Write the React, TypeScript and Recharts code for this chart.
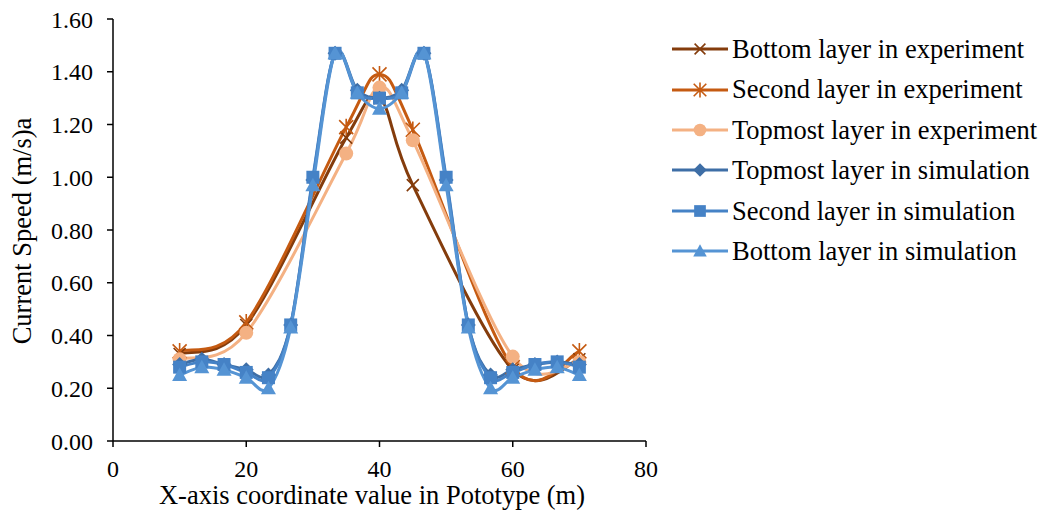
import React from "react";
import { LineChart, Line, XAxis, YAxis, Legend } from "recharts";

// x positions (m)
const expX = [10, 20, 35, 40, 45, 60, 70];
const simX = [10, 13.33, 16.67, 20, 23.33, 26.67, 30, 33.33, 36.67, 40, 43.33, 46.67, 50, 53.33, 56.67, 60, 63.33, 66.67, 70];

// current speed (m/s)
const bottomExp = [0.33, 0.44, 1.15, 1.3, 0.97, 0.27, 0.31];
const secondExp = [0.34, 0.45, 1.19, 1.39, 1.18, 0.28, 0.34];
const topExp = [0.31, 0.41, 1.09, 1.34, 1.14, 0.32, 0.3];
const topSim = [0.29, 0.31, 0.29, 0.27, 0.25, 0.44, 0.99, 1.47, 1.33, 1.3, 1.33, 1.47, 0.99, 0.44, 0.25, 0.27, 0.29, 0.3, 0.29];
const secondSim = [0.28, 0.3, 0.29, 0.26, 0.24, 0.44, 1.0, 1.47, 1.32, 1.3, 1.32, 1.47, 1.0, 0.44, 0.24, 0.26, 0.29, 0.3, 0.28];
const bottomSim = [0.25, 0.28, 0.27, 0.24, 0.2, 0.43, 0.97, 1.47, 1.32, 1.26, 1.32, 1.47, 0.97, 0.43, 0.2, 0.24, 0.27, 0.28, 0.25];

const xTicks = [0, 20, 40, 60, 80];
const yTicks = [0, 0.2, 0.4, 0.6, 0.8, 1.0, 1.2, 1.4, 1.6];

const FONT = '"Liberation Serif", "Times New Roman", serif';

type Shape = "cross" | "star" | "circle" | "diamond" | "square" | "triangle";

const toPts = (xs: number[], ys: number[]) => xs.map((x, i) => ({ x, y: ys[i] }));

const SERIES = [
  { name: "Bottom layer in experiment", data: toPts(expX, bottomExp), color: "#843C0C", shape: "cross" as Shape },
  { name: "Second layer in experiment", data: toPts(expX, secondExp), color: "#C55A11", shape: "star" as Shape },
  { name: "Topmost layer in experiment", data: toPts(expX, topExp), color: "#F4B183", shape: "circle" as Shape },
  { name: "Topmost layer in simulation", data: toPts(simX, topSim), color: "#3E6EA6", shape: "diamond" as Shape },
  { name: "Second layer in simulation", data: toPts(simX, secondSim), color: "#4582C6", shape: "square" as Shape },
  { name: "Bottom layer in simulation", data: toPts(simX, bottomSim), color: "#5594D4", shape: "triangle" as Shape },
];

// Excel-like smoothed line (Catmull-Rom through the points)
function excelCurve(context: any) {
  let pts: number[][] = [];
  return {
    areaStart() {},
    areaEnd() {},
    lineStart() {
      pts = [];
    },
    point(x: number, y: number) {
      pts.push([+x, +y]);
    },
    lineEnd() {
      if (!pts.length) return;
      context.moveTo(pts[0][0], pts[0][1]);
      for (let i = 0; i < pts.length - 1; i++) {
        const p0 = pts[i - 1] || pts[i];
        const p1 = pts[i];
        const p2 = pts[i + 1];
        const p3 = pts[i + 2] || p2;
        context.bezierCurveTo(
          p1[0] + (p2[0] - p0[0]) / 6,
          p1[1] + (p2[1] - p0[1]) / 6,
          p2[0] - (p3[0] - p1[0]) / 6,
          p2[1] - (p3[1] - p1[1]) / 6,
          p2[0],
          p2[1]
        );
      }
    },
  };
}

function Marker({ shape, cx, cy, color, s = 1 }: { shape: Shape; cx: number; cy: number; color: string; s?: number }) {
  switch (shape) {
    case "cross": {
      const r = 6 * s;
      return (
        <path d={`M${cx - r},${cy - r}L${cx + r},${cy + r}M${cx - r},${cy + r}L${cx + r},${cy - r}`} stroke={color} strokeWidth={1.6} />
      );
    }
    case "star": {
      const r = 7 * s;
      return (
        <path
          d={`M${cx - r},${cy - r}L${cx + r},${cy + r}M${cx - r},${cy + r}L${cx + r},${cy - r}M${cx},${cy - r * 1.2}L${cx},${cy + r * 1.2}`}
          stroke={color}
          strokeWidth={1.6}
        />
      );
    }
    case "circle":
      return <circle cx={cx} cy={cy} r={7 * s} fill={color} />;
    case "diamond": {
      const r = 7.5 * s;
      return <path d={`M${cx},${cy - r}L${cx + r},${cy}L${cx},${cy + r}L${cx - r},${cy}Z`} fill={color} />;
    }
    case "square": {
      const r = 6.5 * s;
      return <rect x={cx - r} y={cy - r} width={2 * r} height={2 * r} fill={color} />;
    }
    default: {
      const r = 7.5 * s;
      return <path d={`M${cx},${cy - r}L${cx + r},${cy + r * 0.8}L${cx - r},${cy + r * 0.8}Z`} fill={color} />;
    }
  }
}

function LegendBox() {
  return (
    <div style={{ fontFamily: FONT, fontSize: 26.5, color: "#000", lineHeight: 1 }}>
      {SERIES.map((s) => (
        <div key={s.name} style={{ display: "flex", alignItems: "center", height: 40.4 }}>
          <svg width={58} height={20} style={{ flex: "none" }}>
            <line x1={0} y1={10} x2={56} y2={10} stroke={s.color} strokeWidth={3} />
            <Marker shape={s.shape} cx={28} cy={10} color={s.color} s={0.9} />
          </svg>
          <span style={{ whiteSpace: "nowrap", marginLeft: 2 }}>{s.name}</span>
        </div>
      ))}
    </div>
  );
}

const titleStyle = { fontFamily: FONT, fontSize: 26.5, fill: "#000" };

export default function App() {
  return (
    <div style={{ width: 1045, height: 512, background: "#fff", position: "relative" }}>
      <style>{`body{margin:0}`}</style>
      <LineChart width={1045} height={512} margin={{ top: 19, right: 399, bottom: 0, left: 0 }}>
        <XAxis
          type="number"
          dataKey="x"
          domain={[0, 80]}
          ticks={xTicks}
          allowDuplicatedCategory={false}
          height={71}
          stroke="#000"
          strokeWidth={1.5}
          tickSize={6}
          tickMargin={13}
          tick={{ fontFamily: FONT, fontSize: 24, fill: "#000" }}
          label={{
            content: () => (
              <text x={372} y={504} textAnchor="middle" style={titleStyle}>
                X-axis coordinate value in Pototype (m)
              </text>
            ),
          }}
        />
        <YAxis
          type="number"
          domain={[0, 1.6]}
          ticks={yTicks}
          width={113}
          stroke="#000"
          strokeWidth={1.5}
          tickSize={6}
          tickMargin={14}
          tickFormatter={(v: number) => v.toFixed(2)}
          tick={{ fontFamily: FONT, fontSize: 24, fill: "#000" }}
          label={{
            content: () => (
              <text x={22} y={231} transform="rotate(-90 22 231)" textAnchor="middle" dominantBaseline="central" style={titleStyle}>
                Current Speed (m/s)a
              </text>
            ),
          }}
        />
        {SERIES.map((s) => (
          <Line
            key={s.name}
            data={s.data}
            dataKey="y"
            name={s.name}
            type={excelCurve as any}
            stroke={s.color}
            strokeWidth={3}
            isAnimationActive={false}
            dot={(p: any) => (
              <g key={`${s.name}-${p.index}`}>
                <Marker shape={s.shape} cx={p.cx} cy={p.cy} color={s.color} />
              </g>
            )}
            activeDot={false}
          />
        ))}
        <Legend
          layout="horizontal"
          verticalAlign="middle"
          align="center"
          wrapperStyle={{ left: 672, top: 29, width: 373, height: 250 }}
          content={() => <LegendBox />}
        />
      </LineChart>
    </div>
  );
}
